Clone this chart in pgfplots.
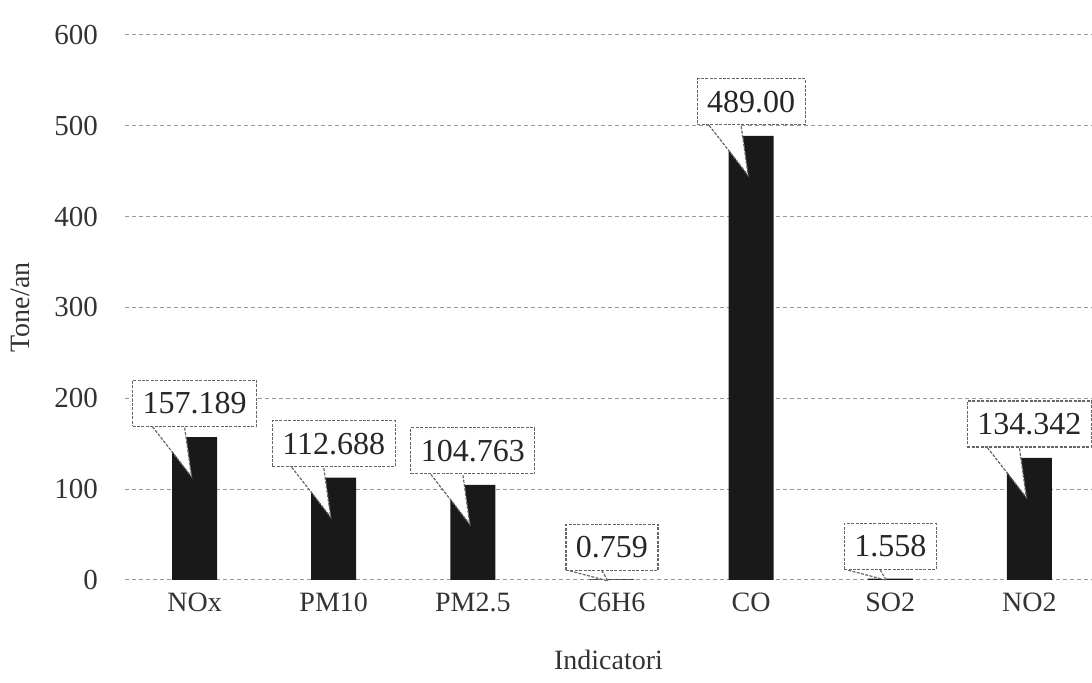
\documentclass[border=0pt]{standalone}
\usepackage{fontspec}
\setmainfont{Liberation Serif}
\usepackage{pgfplots}
\usepackage{pgfplotstable}
\pgfplotsset{compat=1.18}

\pgfplotstableread{
x y label
0 157.189 157.189
1 112.688 112.688
2 104.763 104.763
4 489.00 489.00
6 134.342 134.342
}\bigtable

\pgfplotstableread{
x y label
3 0.759 0.759
5 1.558 1.558
}\smalltable

\tikzset{
  calloutbase/.style={draw=black!60, dash pattern=on 1.5pt off 0.7pt, line width=0.6pt,
    fill=white, inner xsep=5pt, inner ysep=3pt, minimum height=23pt,
    font=\fontsize{16}{18}\selectfont, text=black!85},
  callout/.style 2 args={calloutbase,
    append after command={\pgfextra{%
      \fill[white, draw=none] ([xshift=-21pt,yshift=0.9pt]\tikzlastnode.south) -- ([xshift=#1,yshift=#2]\tikzlastnode.south) -- ([xshift=-5pt,yshift=0.9pt]\tikzlastnode.south) -- cycle;
      \draw[draw=black!60, fill=none, line width=0.6pt, dash pattern=on 1.5pt off 0.7pt] ([xshift=-21pt]\tikzlastnode.south) -- ([xshift=#1,yshift=#2]\tikzlastnode.south) -- ([xshift=-5pt]\tikzlastnode.south);
    }}
  }
}

\begin{document}
\begin{tikzpicture}
\useasboundingbox (0,0) rectangle (546pt,341.5pt);
\begin{axis}[
  at={(62.5pt,51.5pt)}, anchor=south west,
  scale only axis, width=483.5pt, height=272.5pt,
  xmin=-0.5, xmax=6.45, ymin=0, ymax=600,
  ytick={0,100,200,300,400,500,600},
  xtick={0,1,2,3,4,5,6},
  xticklabels={NOx,PM10,PM2.5,C6H6,CO,SO2,NO2},
  axis line style={draw=none}, tick style={draw=none},
  ymajorgrids, grid style={black!40, dash pattern=on 2pt off 1.5pt, line width=0.5pt},
  /pgf/number format/assume math mode=true,
  tick label style={font=\fontsize{14}{16}\selectfont, text=black!80},
  yticklabel style={font=\fontsize{14.5}{16}\selectfont, xshift=-10pt},
  xticklabel style={yshift=-3pt},
  xlabel={Indicatori}, ylabel={Tone/an},
  label style={font=\fontsize{14}{16}\selectfont, text=black!80},
  xlabel style={yshift=-12pt},
  ylabel style={at={(axis description cs:-0.1086,0.5)}, anchor=center, rotate=0},
  clip=false,
]
\addplot[ybar, bar width=22.5pt, bar shift=0pt, fill=black!90, draw=none,
  nodes near coords, point meta=explicit symbolic,
  nodes near coords style={callout={-1.5pt}{-25pt}, anchor=center, yshift=17pt}]
  table[x=x, y=y, meta=label] {\bigtable};
\addplot[ybar, bar width=22.5pt, bar shift=0pt, fill=black!90, draw=none,
  nodes near coords, point meta=explicit symbolic,
  nodes near coords style={callout={-2pt}{-5pt}, anchor=center, yshift=16pt}]
  table[x=x, y=y, meta=label] {\smalltable};
\end{axis}
\end{tikzpicture}
\end{document}
